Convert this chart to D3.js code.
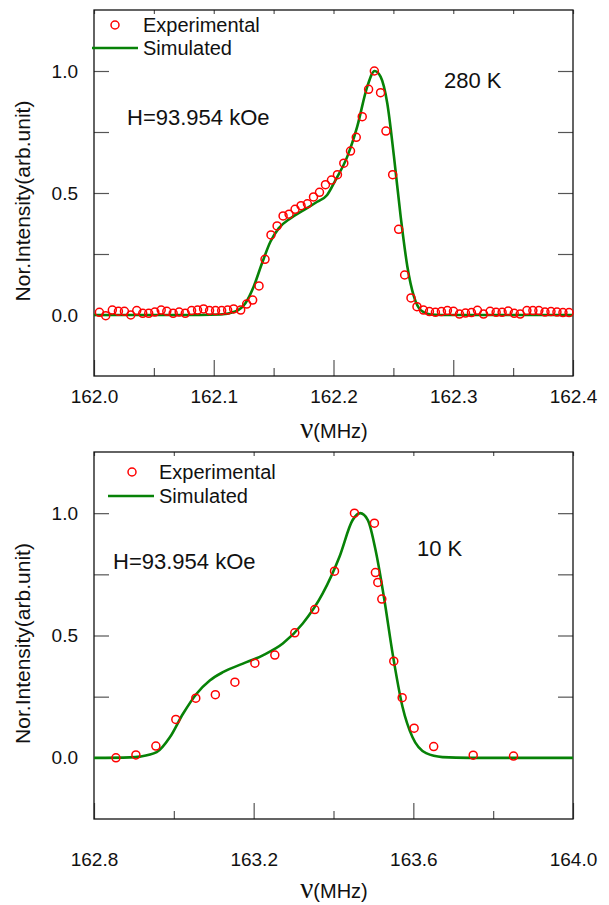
<!DOCTYPE html>
<html>
<head>
<meta charset="utf-8">
<script src="https://cdn.jsdelivr.net/npm/d3@7"></script>
<style>
  html, body { margin: 0; padding: 0; background: #fff; }
  svg { display: block; font-family: "Liberation Sans", Arial, sans-serif; }
</style>
</head>
<body>
<svg id="chart" width="609" height="905"></svg>
<script>
//******************************************************************************
//**  Data
//******************************************************************************

// 280 K experimental spectrum
var freq280 = [
  162.0045,162.0098,162.0153,162.0204,162.0254,162.0307,162.0357,162.0407,162.0457,162.0508,
  162.0561,162.0608,162.0661,162.0711,162.0762,162.0815,162.0865,162.0915,162.0965,162.1015,
  162.1066,162.1116,162.1166,162.1225,162.1275,162.1325,162.1378,162.1428,162.1478,162.1529,
  162.1579,162.1629,162.1679,162.1729,162.1782,162.1833,162.1883,162.1933,162.1983,162.2033,
  162.2086,162.2142,162.2190,162.2240,162.2293,162.2341,162.2393,162.2438,162.2494,162.2544,
  162.2594,162.2647,162.2697,162.2751,162.2801,162.2851,162.2901,162.2951,162.3002,162.3052,
  162.3102,162.3152,162.3202,162.3253,162.3308,162.3358,162.3408,162.3459,162.3509,162.3559,
  162.3615,162.3665,162.3715,162.3766,162.3816,162.3866,162.3916,162.3967
];
var int280 = [
  0.011,-0.003,0.020,0.015,0.015,0.000,0.018,0.007,0.007,0.012,
  0.020,0.015,0.007,0.012,0.007,0.018,0.020,0.025,0.018,0.018,
  0.018,0.020,0.025,0.020,0.045,0.061,0.119,0.228,0.328,0.365,
  0.406,0.413,0.433,0.448,0.456,0.484,0.503,0.534,0.553,0.575,
  0.622,0.672,0.728,0.813,0.925,1.000,0.911,0.754,0.575,0.351,
  0.164,0.070,0.034,0.020,0.014,0.011,0.014,0.018,0.015,0.004,
  0.008,0.010,0.019,0.004,0.015,0.011,0.011,0.016,0.007,0.004,
  0.018,0.018,0.018,0.012,0.014,0.012,0.010,0.010
];

// 280 K simulated line
var simFreq280 = [
  162.0,162.0887,162.1054,162.1180,162.1264,162.1333,162.1403,162.1473,162.1542,162.1640,
  162.1751,162.1864,162.1947,162.2017,162.2115,162.2198,162.2282,162.2343,162.2393,162.2449,
  162.2505,162.2561,162.2617,162.2672,162.2728,162.2812,162.2895,162.4
];
var simInt280 = [
  0,0,0.002,0.014,0.048,0.116,0.212,0.300,0.355,0.396,
  0.430,0.464,0.492,0.553,0.649,0.772,0.936,1.000,0.977,0.868,
  0.649,0.403,0.198,0.075,0.020,0.002,0,0
];

// 10 K experimental spectrum
var freq10 = [
  162.855,162.905,162.955,163.005,163.055,163.104,163.153,163.203,163.253,163.303,
  163.353,163.4025,163.4525,163.5025,163.505,163.511,163.521,163.551,163.572,163.602,
  163.651,163.750,163.851
];
var int10 = [
  0.000,0.012,0.048,0.157,0.244,0.258,0.309,0.387,0.420,0.511,
  0.606,0.763,1.000,0.959,0.757,0.717,0.649,0.395,0.246,0.121,
  0.046,0.011,0.007
];

// 10 K simulated line
var simFreq10 = [
  162.8,162.89,162.915,162.957,162.99,163.023,163.057,163.09,163.123,163.173,
  163.223,163.273,163.323,163.373,163.415,163.448,163.467,163.486,163.507,163.5275,
  163.548,163.573,163.598,163.632,163.673,163.74,164.0
];
var simInt10 = [
  0,0.002,0.005,0.023,0.084,0.180,0.262,0.316,0.350,0.385,
  0.419,0.467,0.549,0.672,0.822,0.972,1.000,0.972,0.836,0.645,
  0.427,0.208,0.084,0.019,0.003,0,0
];

var yTicks = [0, 0.25, 0.5, 0.75, 1.0];

//******************************************************************************
//**  Panels
//******************************************************************************
var panels = [
  {
    top: 10, bottom: 376,
    xDomain: [162.0, 162.4],
    majorX: [162.0, 162.1, 162.2, 162.3, 162.4],
    minorX: [162.05, 162.15, 162.25, 162.35],
    fieldLabel: {x: 127, y: 125},
    tempLabel: {text: "280 K", x: 444, y: 88},
    legend: {cx: 115, cy: 25, lx1: 92, lx2: 138, ly: 48, tx: 143},
    tickPad: 14,
    titleY: 438,
    exp: {x: freq280, y: int280},
    sim: {x: simFreq280, y: simInt280}
  },
  {
    top: 452, bottom: 819,
    xDomain: [162.8, 164.0],
    majorX: [162.8, 163.2, 163.6, 164.0],
    minorX: [163.0, 163.4, 163.8],
    fieldLabel: {x: 113, y: 569},
    tempLabel: {text: "10 K", x: 417, y: 556},
    legend: {cx: 132, cy: 472, lx1: 108, lx2: 154, ly: 496, tx: 159},
    tickPad: 34,
    titleY: 898,
    exp: {x: freq10, y: int10},
    sim: {x: simFreq10, y: simInt10}
  }
];

var svg = d3.select("#chart");
var left = 94, right = 573;

panels.forEach(function(p, idx){
    var x = d3.scaleLinear().domain(p.xDomain).range([left, right]);
    var y = d3.scaleLinear().domain([-0.25, 1.25]).range([p.bottom, p.top]);
    var g = svg.append("g");

    // clip
    var clipId = "clip" + idx;
    svg.append("clipPath").attr("id", clipId)
      .append("rect")
      .attr("x", left).attr("y", p.top)
      .attr("width", right - left).attr("height", p.bottom - p.top);

  // y axes (inward ticks both sides)
    var yAxisL = d3.axisLeft(y).tickValues(yTicks)
      .tickSizeInner(-15).tickSizeOuter(0).tickPadding(16)
      .tickFormat(function(d){ return (d % 0.5 === 0) ? d.toFixed(1) : ""; });
    var gl = g.append("g").attr("transform", "translate(" + left + ",0)").call(yAxisL);

    var yAxisR = d3.axisRight(y).tickValues(yTicks)
      .tickSizeInner(-15).tickSizeOuter(0).tickFormat("");
    var gr = g.append("g").attr("transform", "translate(" + right + ",0)").call(yAxisR);

  // x axes
    var xMajor = d3.axisBottom(x).tickValues(p.majorX)
      .tickSizeInner(-16).tickSizeOuter(0).tickPadding(p.tickPad)
      .tickFormat(d3.format(".1f"));
    var gx = g.append("g").attr("transform", "translate(0," + p.bottom + ")").call(xMajor);

    var xMinor = d3.axisBottom(x).tickValues(p.minorX)
      .tickSizeInner(-8).tickSizeOuter(0).tickFormat("");
    var gxm = g.append("g").attr("transform", "translate(0," + p.bottom + ")").call(xMinor);

    var xTop = d3.axisTop(x).tickValues(p.majorX.concat(p.minorX))
      .tickSizeInner(-4).tickSizeOuter(0).tickFormat("");
    var gxt = g.append("g").attr("transform", "translate(0," + p.top + ")").call(xTop);

    [gl, gr, gx, gxm, gxt].forEach(function(a){
        a.select(".domain").remove();
        a.selectAll("line").attr("stroke", "#555").attr("stroke-width", 1.2);
        a.selectAll("text")
          .attr("fill", "#111")
          .style("font-size", "19px")
          .style("font-family", "'Liberation Sans', Arial, sans-serif");
    });

  // frame
    g.append("rect")
      .attr("x", left).attr("y", p.top)
      .attr("width", right - left).attr("height", p.bottom - p.top)
      .attr("fill", "none").attr("stroke", "#111").attr("stroke-width", 1.3);

  // simulated line
    var simData = p.sim.x.map(function(v, i){ return [v, p.sim.y[i]]; });
    var line = d3.line()
      .x(function(d){ return x(d[0]); })
      .y(function(d){ return y(d[1]); })
      .curve(d3.curveMonotoneX);

    g.append("path")
      .datum(simData)
      .attr("clip-path", "url(#" + clipId + ")")
      .attr("fill", "none")
      .attr("stroke", "#078207")
      .attr("stroke-width", 2.6)
      .attr("d", line);

  // experimental points
    var expData = p.exp.x.map(function(v, i){ return [v, p.exp.y[i]]; });
    g.append("g").selectAll("circle")
      .data(expData).enter()
      .append("circle")
      .attr("cx", function(d){ return x(d[0]); })
      .attr("cy", function(d){ return y(d[1]); })
      .attr("r", 4)
      .attr("fill", "none")
      .attr("stroke", "#ff0000")
      .attr("stroke-width", 1.5);

  // legend
    var L = p.legend;
    g.append("circle").attr("cx", L.cx).attr("cy", L.cy).attr("r", 4)
      .attr("fill", "none").attr("stroke", "#ff0000").attr("stroke-width", 1.5);
    g.append("text").attr("x", L.tx).attr("y", L.cy + 7)
      .style("font-size", "20px").attr("fill", "#111").text("Experimental");
    g.append("line").attr("x1", L.lx1).attr("x2", L.lx2).attr("y1", L.ly).attr("y2", L.ly)
      .attr("stroke", "#078207").attr("stroke-width", 2.6);
    g.append("text").attr("x", L.tx).attr("y", L.ly + 7)
      .style("font-size", "20px").attr("fill", "#111").text("Simulated");

  // annotations
    g.append("text").attr("x", p.fieldLabel.x).attr("y", p.fieldLabel.y)
      .style("font-size", "22px").attr("fill", "#111").text("H=93.954 kOe");
    g.append("text").attr("x", p.tempLabel.x).attr("y", p.tempLabel.y)
      .style("font-size", "22px").attr("fill", "#111").text(p.tempLabel.text);

  // axis titles
    var t = g.append("text").attr("x", 334).attr("y", p.titleY)
      .attr("text-anchor", "middle").attr("fill", "#111");
    t.append("tspan").style("font-family", "'Liberation Serif', 'Times New Roman', serif")
      .style("font-size", "29px").text("\u03BD");
    t.append("tspan").style("font-size", "20px").text("(MHz)");

    var mid = (p.top + p.bottom) / 2;
    g.append("text")
      .attr("transform", "translate(30," + (mid + 8) + ") rotate(-90)")
      .attr("text-anchor", "middle")
      .style("font-size", "21px").attr("fill", "#111")
      .text("Nor.Intensity(arb.unit)");
});
</script>
</body>
</html>
